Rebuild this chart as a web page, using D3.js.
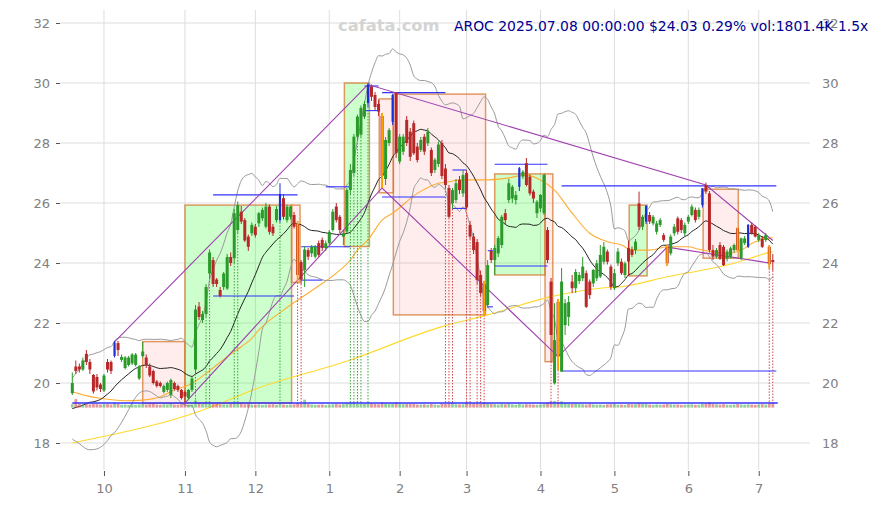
<!DOCTYPE html>
<html><head><meta charset="utf-8">
<script src="https://cdn.jsdelivr.net/npm/d3@7"></script>
<style>body{margin:0;background:#fff}svg{display:block}</style>
</head><body>
<svg id="c" width="876" height="505"></svg>
<script>
// ---------- DATA ----------
const priorCloses = [19.6,19.8,19.9,19.7,19.5,19.4,19.2,18.9,18.6,18.5,18.4,18.5,18.6,18.7,18.8,18.9,19.0,19.3,19.6];
const opens = [19.66,20.55,20.55,20.45,20.97,20.7,20.27,20.2,19.95,19.75,20.7,20.7,20.9,21.33,20.77,20.5,20.6,20.65,20.6,20.15,
20.9,20.85,20.55,20.4,20.05,20.0,19.7,19.77,19.6,20.0,19.9,19.77,19.7,19.5,19.77,20.45,22.55,22.1,22.3,23.65,
24.1,23.45,23.1,23.2,23.15,24.2,24.16,25.1,25.71,25.43,24.88,24.99,25.21,25.32,25.49,25.21,25.88,25.21,25.43,25.43,
26.16,25.43,25.54,25.6,25.3,24.03,23.77,24.43,24.32,24.21,24.66,24.77,24.5,24.66,25.1,25.88,25.54,24.88,25.05,26.43,
27.0,28.21,28.28,28.88,29.33,29.88,29.6,29.3,28.9,26.8,28.0,28.71,29.66,27.38,27.71,28.77,28.38,28.66,27.88,27.77,
28.21,27.99,27.77,27.1,27.3,28.0,27.15,26.5,25.99,26.1,26.77,26.32,27.0,25.27,24.88,24.7,23.6,23.3,22.6,24.4,
24.1,24.32,24.6,25.66,26.1,26.15,26.1,26.54,26.88,27.33,26.88,26.38,25.66,25.82,25.66,25.1,23.38,19.99,22.71,20.38,
21.93,22.2,23.38,23.16,23.4,23.49,23.66,23.38,23.32,23.49,23.55,24.04,24.38,23.88,23.16,23.99,24.04,23.6,24.5,24.45,
24.43,25.99,25.21,25.38,25.6,25.32,25.04,25.27,24.93,24.54,24.32,24.99,25.49,25.43,24.99,25.38,25.6,25.77,25.54,25.93,
26.6,26.32,24.43,24.21,24.6,24.54,24.15,24.21,24.43,25.16,24.16,24.66,24.54,25.27,25.21,24.77,24.82,24.77,24.54,24.1];
const highs = [20.35,20.75,20.65,20.85,21.1,20.8,20.3,20.3,20.0,20.3,20.8,20.75,21.4,21.4,20.95,20.9,20.9,21.0,21.0,20.6,
21.37,20.95,20.65,20.45,20.1,20.05,19.95,20.05,20.15,20.05,19.95,19.8,19.75,19.8,20.2,22.6,22.7,22.4,23.3,24.45,
24.2,23.5,23.2,23.7,24.3,24.35,25.8,26.05,25.9,25.5,24.95,25.35,25.3,25.7,25.85,26.0,25.95,25.3,25.9,26.66,
26.3,25.95,25.9,25.7,25.4,24.1,24.55,24.5,24.6,24.6,24.75,24.85,24.75,25.1,25.8,26.0,25.6,25.1,26.5,27.3,
28.3,28.95,29.25,29.4,30.0,29.95,29.7,29.45,29.0,28.2,28.5,29.63,29.7,28.3,28.3,28.9,28.5,28.75,28.0,28.2,
28.3,28.5,27.85,27.5,28.05,28.1,27.3,26.6,26.5,26.8,26.9,27.1,27.1,25.4,25.0,24.8,23.75,23.4,24.1,24.5,
24.6,24.9,25.6,25.8,26.8,26.6,26.4,27.2,27.1,27.5,26.95,26.45,26.1,26.3,26.97,25.2,23.5,22.66,22.8,23.83,
22.8,22.9,23.6,23.8,23.7,24.2,23.75,23.45,23.8,24.1,24.6,24.7,24.45,23.95,23.8,24.5,24.15,24.05,24.75,24.55,
24.8,26.38,25.6,25.93,25.7,25.6,25.4,25.5,25.0,24.6,24.95,25.3,25.55,25.5,25.35,25.6,25.95,25.85,25.85,26.5,
26.68,26.4,24.6,24.5,24.7,24.6,24.45,24.55,24.65,25.2,24.85,24.9,25.3,25.35,25.25,25.0,24.9,25.0,24.6,24.3];
const lows = [19.6,20.3,20.35,20.4,20.6,20.3,19.65,19.75,19.7,19.7,20.35,20.3,20.85,20.9,20.7,20.45,20.55,20.6,20.55,20.1,
20.85,20.5,20.2,19.95,19.85,19.85,19.65,19.7,19.5,19.75,19.7,19.45,19.33,19.45,19.7,20.3,22.1,22.0,22.2,23.5,
23.2,23.2,22.85,23.1,23.1,23.9,24.0,25.0,25.3,24.7,24.4,24.9,24.85,25.2,25.4,25.15,24.95,24.9,25.35,25.35,
25.45,25.35,25.45,25.15,23.35,23.3,23.2,24.1,24.2,24.15,24.2,24.4,24.4,24.6,25.05,25.35,25.0,24.6,25.0,26.3,
26.9,28.1,28.2,28.8,29.2,29.4,29.1,28.9,26.5,26.6,27.9,28.6,27.5,27.3,27.6,27.9,27.4,27.6,27.35,27.7,
27.6,27.9,26.9,27.0,27.2,26.8,26.5,25.5,25.8,26.0,26.3,26.2,25.8,24.8,24.3,23.3,22.9,22.27,22.5,24.0,
23.6,24.2,24.5,25.3,26.0,26.0,25.95,26.4,26.8,26.55,26.25,26.0,25.5,25.7,25.6,24.0,20.71,19.95,20.43,20.38,
21.6,21.9,23.0,23.0,23.3,23.4,22.5,22.8,23.2,23.4,23.5,23.95,23.95,23.1,23.1,23.9,23.6,23.5,23.57,24.2,
24.3,25.1,25.1,25.3,25.3,25.25,24.95,25.2,24.7,23.9,24.25,24.9,24.95,25.0,24.9,25.3,25.55,25.35,25.45,25.85,
26.3,24.35,24.1,24.16,24.1,23.9,24.05,24.15,24.35,24.4,24.1,24.6,24.5,24.95,24.85,24.7,24.5,24.7,23.82,23.75];
const closes = [20.0,20.4,20.45,20.75,20.7,20.45,19.72,19.85,19.8,20.25,20.45,20.4,21.35,21.1,20.87,20.85,20.85,20.95,20.95,20.55,
21.05,20.6,20.25,20.0,19.9,19.9,19.9,20.0,20.1,19.8,19.77,19.5,19.55,19.77,20.15,22.45,22.2,22.3,23.2,24.35,
23.3,23.3,22.9,23.65,24.2,24.0,25.66,25.93,25.38,24.75,24.54,25.27,24.93,25.66,25.77,25.88,25.04,24.99,25.8,26.3,
25.54,25.88,25.88,25.21,23.6,23.45,24.45,24.21,24.54,24.54,24.27,24.5,24.66,25.04,25.71,25.43,25.1,24.99,26.43,27.1,
28.21,28.88,29.17,29.3,29.93,29.54,29.2,29.05,26.9,28.1,28.43,29.6,27.66,28.21,28.21,28.0,27.54,27.66,27.43,28.1,
27.71,28.38,27.0,27.44,27.95,26.9,26.6,25.54,26.43,26.66,26.43,26.93,25.85,24.88,24.43,23.43,23.0,22.4,23.93,24.1,
24.5,24.83,25.54,25.43,26.66,26.54,26.27,27.16,27.04,26.6,26.32,26.15,26.04,26.27,26.93,24.1,21.6,21.43,20.88,23.38,
22.66,22.7,23.16,23.7,23.6,23.88,22.54,22.93,23.77,23.99,24.27,24.54,24.04,23.2,23.66,24.38,23.66,23.99,24.05,24.27,
24.71,25.21,25.54,25.9,25.38,25.54,25.32,25.43,24.77,23.99,24.88,25.21,25.04,25.1,25.27,25.54,25.88,25.43,25.77,26.49,
26.38,24.43,24.21,24.43,24.15,23.93,24.38,24.49,24.6,24.43,24.82,24.82,25.27,24.99,24.88,24.93,24.54,24.93,23.96,24.03];
const volumes = [1250,3100,1400,1150,1300,1200,1500,1350,1100,1250,1300,1150,1700,1400,1050,1100,950,1200,1000,1150,
1300,1100,1250,1400,1050,1000,1150,1100,1300,1050,1000,1250,1350,1100,1200,2600,1900,1500,1700,1800,
1600,1300,1250,1200,1150,1300,1900,1600,1450,1200,1300,1100,1050,1200,1000,1100,1150,1250,1050,1500,
1100,1000,1150,1200,1700,1500,2900,1300,1100,1000,1050,1150,900,1100,1200,1300,1150,1250,1600,1800,
1900,1500,1400,1300,1700,1450,1350,1200,1800,1500,1300,1400,2000,1500,1250,1350,1300,1400,1100,1150,
1200,1050,1300,1100,1000,1500,1350,1600,1700,1250,1150,1200,1800,1600,1450,1700,1500,1900,1600,1300,
1250,1100,1350,1200,1400,1150,1000,1300,1100,1250,1200,1100,1050,1150,1300,1800,2200,2400,2000,2300,
1700,1500,1300,1400,1250,1200,1100,1300,1150,1050,1100,1000,1200,1250,1300,1050,1100,1000,1350,1200,
1250,1600,1300,1400,1100,1000,1150,1050,1100,1350,1200,1100,1150,1000,1050,1100,1200,1000,1050,1400,
1500,1900,1300,1200,1100,1250,1050,1000,1100,1300,1150,1050,1200,1100,1000,1150,1250,1100,1600,1801.4];
const monthTickIdx = [9,32,52,73,93,112,133,154,175,195];
const monthLabels = ["10","11","12","1","2","3","4","5","6","7"];
const priceTicks = [18,20,22,24,26,28,30,32];
const blueCandles = [12,59,84,91,127,163,179,192];
const orangeCandles = [64,88,117,138,169,189,198];
const greenSignals = [35,38,39,46,47,59,79,80,81,82,84];
const redSignals = [64,65,106,107,108,112,113,115,116,117,136,138,198,199];
// boxes: [startIdx, endIdx, top, bottom, kind]
const boxes = [[20,32,21.38,19.32,"down"],[32,62.3,25.93,19.33,"up"],[62.3,64.7,25.93,23.35,"down"],[77.3,84.4,30.0,24.55,"up"],
[87.2,91.2,29.47,26.34,"down"],[91.2,117.4,29.63,22.27,"down"],[120,134.3,26.97,23.6,"up"],[134.3,136.5,26.97,20.71,"down"],
[158.2,163.3,25.93,23.57,"up"],[179.2,189.2,26.46,24.16,"down"]];
// horizontal levels: [startIdx, endIdx, value]
const levels = [[40,64,26.27],[40,63,22.9],[65,71,23.43],[65,79,24.54],[72,79,26.54],[83,87,29.9],[83,87,29.08],
[88,106,29.68],[88,106,26.2],[108,112,27.1],[108,112,25.82],[118,119.5,24.41],[118,119.5,22.54],[120,135,27.29],[120,135,23.9],
[139,200,26.57],[139,200,20.4]];
const zigHigh = [[12,21.37],[84,29.95],[180,26.6],[199,24.75]];
const zigLow = [[32,19.33],[88,26.5],[138,20.88],[169,24.53],[198,24.0]];
const ma50 = [[0,19.71],[4,19.58],[8,19.49],[15,19.41],[20,19.43],[25,19.54],[29,19.77],[32,19.88],[34,19.99],[38,20.32],
[44,20.88],[48,21.21],[51,21.49],[53,21.77],[60,22.43],[69,23.16],[75,23.66],[79,24.1],[81,24.43],[84,24.77],[88,25.43],
[91,25.66],[98,26.32],[104,26.66],[107,26.71],[110,26.77],[117,26.77],[123,26.82],[129,26.93],[133,26.77],[137,26.43],
[142,25.66],[147,24.99],[152,24.71],[156,24.6],[159,24.43],[164,24.43],[169,24.54],[175,24.54],[178,24.46],[186,24.32],
[190,24.43],[194,24.71],[198,24.82],[199,24.85]];
const ma200 = [[0,18.0],[41,19.27],[50,19.71],[79,20.77],[105,21.88],[118,22.27],[136,22.88],[150,23.16],[156,23.21],
[169,23.54],[188,23.99],[197,24.32],[199,24.38]];
const titleText = "AROC 2025.07.08 00:00:00 $24.03 0.29% vol:1801.4K 1.5x";

// ---------- CHART ----------
const svg = d3.select("#c");
const plot = {l:60, r:810, t:10, b:470};
const n = closes.length;
const x = d3.scaleLinear().domain([0, n-1]).range([72.3, 772.8]);
const y = d3.scaleLinear().domain([18, 32]).range([443, 23]);
const font = "DejaVu Sans, sans-serif";

// grid
const g = svg.append("g");
g.selectAll(".hg").data(priceTicks).join("line")
  .attr("x1", plot.l).attr("x2", plot.r).attr("y1", d=>y(d)).attr("y2", d=>y(d))
  .attr("stroke", "#dedede").attr("stroke-width", 1);
g.selectAll(".vg").data(monthTickIdx).join("line")
  .attr("x1", d=>x(d)).attr("x2", d=>x(d)).attr("y1", plot.t).attr("y2", plot.b)
  .attr("stroke", "#dedede").attr("stroke-width", 1);

// boxes
svg.append("g").selectAll("rect").data(boxes).join("rect")
  .attr("x", d=>x(d[0])).attr("width", d=>x(d[1])-x(d[0]))
  .attr("y", d=>y(d[2])).attr("height", d=>y(d[3])-y(d[2]))
  .attr("fill", d=>d[4]==="up" ? "rgba(0,255,0,0.2)" : "rgba(255,60,60,0.09)")
  .attr("stroke", "rgba(215,120,50,0.75)").attr("stroke-width", 1.5);

// MA lines
const lineKP = d3.line().x(d=>x(d[0])).y(d=>y(d[1])).curve(d3.curveMonotoneX);
svg.append("path").attr("d", lineKP(ma200)).attr("fill","none").attr("stroke","#ffd92e").attr("stroke-width",1.1);
svg.append("path").attr("d", lineKP(ma50)).attr("fill","none").attr("stroke","#ffad33").attr("stroke-width",1.1);

// Bollinger (20,2) from closes
const allC = priorCloses.concat(closes);
const bb = closes.map((c,i)=>{
  const w = allC.slice(i, i+20);
  const m = d3.mean(w);
  const sd = Math.sqrt(d3.mean(w, v=>(v-m)*(v-m)));
  return {i, m, up:m+2*sd, lo:m-2*sd};
});
const lineBy = key => d3.line().x(d=>x(d.i)).y(d=>y(d[key])).curve(d3.curveMonotoneX);
svg.append("path").attr("d", lineBy("up")(bb)).attr("fill","none").attr("stroke","#9a9a9a").attr("stroke-width",1);
svg.append("path").attr("d", lineBy("lo")(bb)).attr("fill","none").attr("stroke","#9a9a9a").attr("stroke-width",1);
svg.append("path").attr("d", lineBy("m")(bb)).attr("fill","none").attr("stroke","#222").attr("stroke-width",1);

// volume strip
const minLow = d3.min(lows);
const volBase = y(minLow) + 4.5;
const vh = d3.scaleLinear().domain([0, d3.max(volumes)]).range([0, 8.5]);
svg.append("g").selectAll("rect").data(volumes).join("rect")
  .attr("x", (d,i)=>x(i)-1.4).attr("width", 2.8)
  .attr("y", d=>volBase - vh(d)).attr("height", d=>vh(d))
  .attr("fill", (d,i)=> closes[i]>=opens[i] ? "rgba(60,170,60,0.55)" : "rgba(205,70,70,0.55)");

// signal dotted lines
svg.append("g").selectAll("line").data(greenSignals).join("line")
  .attr("x1", d=>x(d)).attr("x2", d=>x(d)).attr("y1", d=>y(lows[d])).attr("y2", y(minLow))
  .attr("stroke", "#3aa53a").attr("stroke-width", 1).attr("stroke-dasharray", "1.5,1.5");
svg.append("g").selectAll("line").data(redSignals).join("line")
  .attr("x1", d=>x(d)).attr("x2", d=>x(d)).attr("y1", d=>y(lows[d])).attr("y2", y(minLow))
  .attr("stroke", "#d04a4a").attr("stroke-width", 1).attr("stroke-dasharray", "1.5,1.5");

// baseline
svg.append("line").attr("x1", x(0)).attr("x2", x(n-1)+5).attr("y1", y(minLow)).attr("y2", y(minLow))
  .attr("stroke", "#3333ff").attr("stroke-width", 1.5);

// levels
svg.append("g").selectAll("line").data(levels).join("line")
  .attr("x1", d=>x(d[0])).attr("x2", d=>x(d[1])).attr("y1", d=>y(d[2])).attr("y2", d=>y(d[2]))
  .attr("stroke", "#3333ff").attr("stroke-width", 1.1);

// zigzags
const lineZ = d3.line().x(d=>x(d[0])).y(d=>y(d[1]));
[zigHigh, zigLow].forEach(z=>svg.append("path").attr("d", lineZ(z)).attr("fill","none")
  .attr("stroke","#a040b0").attr("stroke-width",1.1));

// candles
const idx = d3.range(n);
const isBlue = new Set(blueCandles);
const col = i => isBlue.has(i) ? "#1a2fd6" : (closes[i]>=opens[i] ? "#2a9a2a" : "#b82828");
const cg = svg.append("g");
cg.selectAll(".wk").data(idx).join("line")
  .attr("x1", i=>x(i)).attr("x2", i=>x(i)).attr("y1", i=>y(highs[i])).attr("y2", i=>y(lows[i]))
  .attr("stroke", col).attr("stroke-width", 1);
cg.selectAll(".bd").data(idx).join("rect")
  .attr("x", i=>x(i) - (isBlue.has(i)?1.1:1.5)).attr("width", i=>isBlue.has(i)?2.2:3.0)
  .attr("y", i=>y(Math.max(opens[i], closes[i])))
  .attr("height", i=>Math.max(0.8, Math.abs(y(opens[i]) - y(closes[i]))))
  .attr("fill", col);
cg.selectAll(".or").data(orangeCandles).join("rect")
  .attr("x", i=>x(i)-0.9).attr("width", 1.8)
  .attr("y", i=>y(highs[i])).attr("height", i=>y(lows[i]) - y(highs[i]))
  .attr("fill", "#ffa500");

// axes
const ax = svg.append("g").attr("font-family", font);
const left = d3.axisLeft(y).tickValues(priceTicks).tickSize(4).tickPadding(6).tickFormat(d3.format("d"));
ax.append("g").attr("transform", `translate(${plot.l},0)`).call(left)
  .call(s=>{s.select(".domain").remove(); s.selectAll("text").attr("fill","#808080").attr("font-size",13).attr("font-family",font); s.selectAll("line").attr("stroke","#555");});
const right = d3.axisRight(y).tickValues(priceTicks).tickSize(0).tickPadding(12).tickFormat(d3.format("d"));
ax.append("g").attr("transform", `translate(${plot.r},0)`).call(right)
  .call(s=>{s.select(".domain").remove(); s.selectAll("text").attr("fill","#808080").attr("font-size",13).attr("font-family",font);});
const bottom = d3.axisBottom(x).tickValues(monthTickIdx).tickSize(5).tickPadding(8)
  .tickFormat((d,i)=>monthLabels[i]);
ax.append("g").attr("transform", `translate(0,${plot.b+1})`).call(bottom)
  .call(s=>{s.select(".domain").remove(); s.selectAll("text").attr("fill","#808080").attr("font-size",13).attr("font-family",font); s.selectAll("line").attr("stroke","#555");});

// texts
svg.append("text").attr("x", 338).attr("y", 31).text("cafata.com")
  .attr("font-family", font).attr("font-weight","bold").attr("font-size", 16.3).attr("fill", "#d4d4d4");
svg.append("text").attr("x", 454).attr("y", 31).text(titleText)
  .attr("font-family", font).attr("font-size", 13.9).attr("fill", "#000090");
</script>
</body></html>
